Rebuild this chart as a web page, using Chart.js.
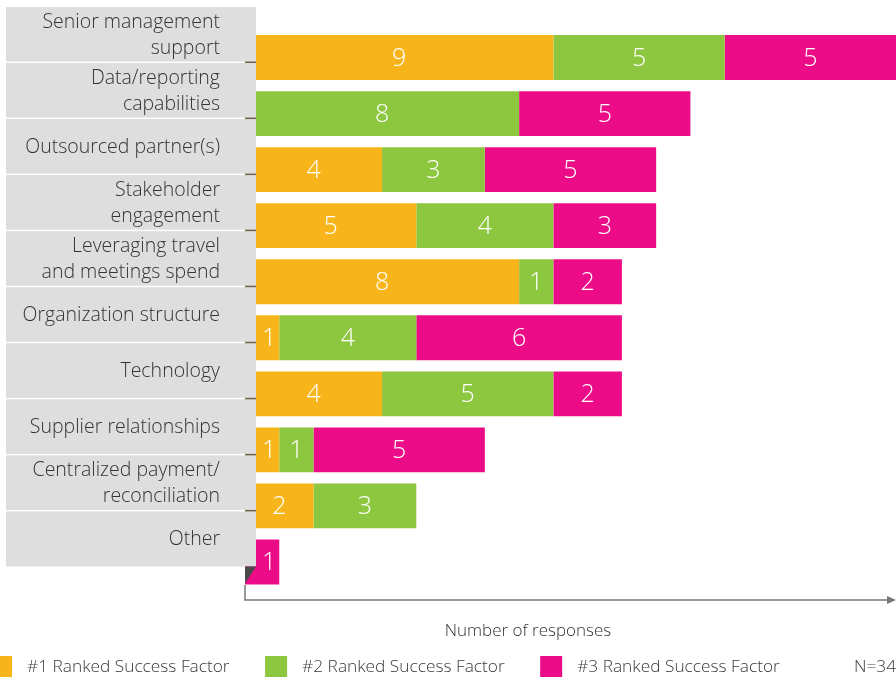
<!DOCTYPE html>
<html>
<head>
<meta charset="utf-8">
<script src="https://cdn.jsdelivr.net/npm/chart.js@4.4.1/dist/chart.umd.min.js"></script>
<style>
  html, body { margin: 0; padding: 0; background: #fff; }
  #wrap { width: 896px; height: 677px; position: relative; }
</style>
</head>
<body>
<div id="wrap"><canvas id="chart" width="896" height="677"></canvas></div>
<script>
const categories = [
  ["Senior management", "support"],
  ["Data/reporting", "capabilities"],
  "Outsourced partner(s)",
  ["Stakeholder", "engagement"],
  ["Leveraging travel", "and meetings spend"],
  "Organization structure",
  "Technology",
  "Supplier relationships",
  ["Centralized payment/", "reconciliation"],
  "Other",
];

const rank1 = [9, 0, 4, 5, 8, 1, 4, 1, 2, 0];
const rank2 = [5, 8, 3, 4, 1, 4, 5, 1, 3, 0];
const rank3 = [5, 5, 5, 3, 2, 6, 2, 5, 0, 1];

const seriesNames = [
  "#1 Ranked Success Factor",
  "#2 Ranked Success Factor",
  "#3 Ranked Success Factor",
];
const colors = ["#f8b51b", "#8dc63f", "#ec0c87"];

const axisTitle = "Number of responses";
const sampleNote = "N=34";

const FONT = "'Open Sans', 'Noto Sans', sans-serif";
const BOX_LEFT = 6;
const BOX_RIGHT = 256;

// gray label panel, row separators and the little tick marks
const labelPanel = {
  id: "labelPanel",
  afterDatasetsDraw(chart) {
    const { ctx, scales } = chart;
    const y = scales.y;
    const band = y.getPixelForValue(1) - y.getPixelForValue(0);
    const bounds = categories.map((_, i) => y.getPixelForValue(i) + band * 0.08);
    const top = y.getPixelForValue(0) - band * 0.9;

    ctx.save();
    ctx.fillStyle = "#dedede";
    ctx.fillRect(BOX_LEFT, top, BOX_RIGHT - BOX_LEFT, bounds[bounds.length - 1] - top);

    bounds.slice(0, -1).forEach((b) => {
      ctx.fillStyle = "#ffffff";
      ctx.fillRect(BOX_LEFT, b - 0.5, 245 - BOX_LEFT, 1.5);
      ctx.fillStyle = "#6f6249";
      ctx.fillRect(245, b - 0.5, BOX_RIGHT - 245, 1.5);
    });

    // dark corner under the last row
    const last = bounds[bounds.length - 1];
    ctx.fillStyle = "#4a4a4a";
    ctx.beginPath();
    ctx.moveTo(245, last);
    ctx.lineTo(BOX_RIGHT, last);
    ctx.lineTo(245, last + 17);
    ctx.closePath();
    ctx.fill();

    // values inside the segments
    ctx.font = `300 25px ${FONT}`;
    ctx.fillStyle = "#ffffff";
    ctx.textAlign = "center";
    ctx.textBaseline = "middle";
    chart.data.datasets.forEach((ds, di) => {
      chart.getDatasetMeta(di).data.forEach((bar, i) => {
        const v = ds.data[i];
        if (!v) return;
        const x0 = Math.min(bar.x, bar.base);
        const x1 = Math.max(bar.x, bar.base);
        const w = ctx.measureText(String(v)).width;
        let cx = (x0 + x1) / 2;
        cx = Math.max(cx, BOX_RIGHT + w / 2 + 6);
        ctx.fillText(String(v), cx, bar.y + 1);
      });
    });
    ctx.restore();
  },
  afterDraw(chart) {
    const { ctx, chartArea, scales } = chart;
    const x0 = scales.x.getPixelForValue(0);
    const axisY = chartArea.bottom + 10;

    ctx.save();
    ctx.strokeStyle = "#777777";
    ctx.lineWidth = 1.5;
    ctx.beginPath();
    ctx.moveTo(x0, chartArea.bottom - 5);
    ctx.lineTo(x0, axisY);
    ctx.lineTo(chartArea.right - 5, axisY);
    ctx.stroke();
    ctx.fillStyle = "#777777";
    ctx.beginPath();
    ctx.moveTo(chartArea.right, axisY);
    ctx.lineTo(chartArea.right - 9, axisY - 4);
    ctx.lineTo(chartArea.right - 9, axisY + 4);
    ctx.closePath();
    ctx.fill();

    ctx.fillStyle = "#333333";
    ctx.font = `300 17px ${FONT}`;
    ctx.textAlign = "center";
    ctx.textBaseline = "middle";
    ctx.fillText(axisTitle, 528, axisY + 31);

    // legend
    ctx.font = `300 17.3px ${FONT}`;
    ctx.textAlign = "left";
    let lx = -10;
    const ly = 666;
    chart.data.datasets.forEach((ds) => {
      ctx.fillStyle = ds.backgroundColor;
      ctx.fillRect(lx, ly - 10, 22, 21);
      ctx.fillStyle = "#3a3a3a";
      ctx.fillText(ds.label, lx + 37, ly + 1);
      lx += 37 + ctx.measureText(ds.label).width + 35.5;
    });
    ctx.textAlign = "right";
    ctx.fillText(sampleNote, 896, ly + 1);
    ctx.restore();
  },
};

new Chart(document.getElementById("chart"), {
  type: "bar",
  data: {
    labels: categories,
    datasets: [rank1, rank2, rank3].map((data, i) => ({
      label: seriesNames[i],
      data,
      backgroundColor: colors[i],
      borderWidth: 0,
      categoryPercentage: 1,
      barPercentage: 0.8,
    })),
  },
  options: {
    indexAxis: "y",
    responsive: false,
    animation: false,
    layout: { padding: { top: 29.5, bottom: 87, left: 0, right: 0 } },
    plugins: {
      legend: { display: false },
      tooltip: { enabled: false },
    },
    scales: {
      x: {
        stacked: true,
        display: false,
        min: 0,
        max: 19,
      },
      y: {
        stacked: true,
        afterFit: (scale) => {
          scale.width = 245;
          scale.paddingTop = 0;
          scale.paddingBottom = 0;
        },
        grid: { display: false, drawTicks: false },
        border: { display: false },
        ticks: {
          z: 1,
          padding: 25,
          labelOffset: -22.5,
          color: "#333333",
          font: { family: FONT, size: 19.5, weight: 300, lineHeight: 1.33 },
        },
      },
    },
  },
  plugins: [labelPanel],
});
</script>
</body>
</html>
